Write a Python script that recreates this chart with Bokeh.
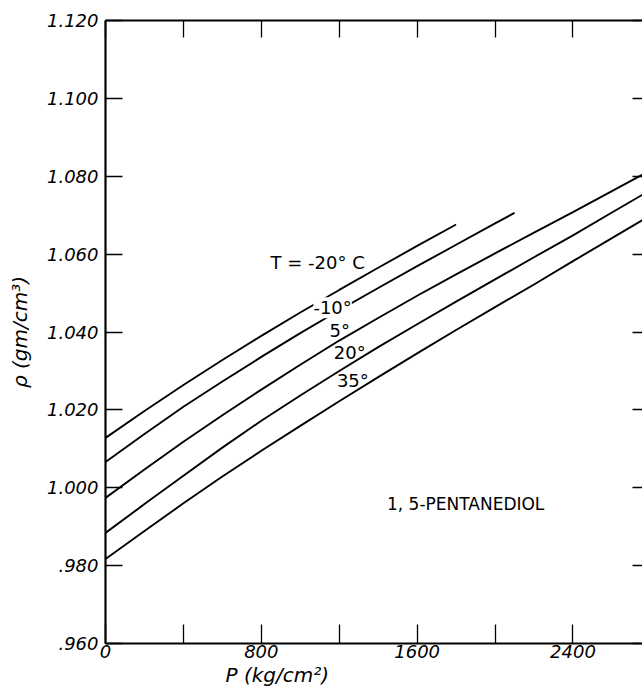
from bokeh.plotting import figure
from bokeh.models import LinearAxis, FixedTicker, Range1d, Label, Title
from bokeh.embed import file_html
from bokeh.resources import INLINE

# ---- data ----
P_m20 = [0, 200, 400, 600, 800, 1000, 1200, 1400, 1600, 1800]
rho_m20 = [1.0128, 1.0197, 1.0264, 1.0328, 1.0390, 1.0450, 1.0508, 1.0565, 1.0621, 1.0676]

P_m10 = [0, 200, 400, 600, 800, 1000, 1200, 1400, 1600, 1800, 2000, 2100]
rho_m10 = [1.0066, 1.0138, 1.0208, 1.0273, 1.0336, 1.0397, 1.0456, 1.0513, 1.0569, 1.0624,
           1.0679, 1.0706]

P_full = [0, 200, 400, 600, 800, 1000, 1200, 1400, 1600, 1800, 2000, 2200, 2400, 2600, 2800]
rho_5 = [0.9974, 1.0047, 1.0118, 1.0186, 1.0252, 1.0316, 1.0378, 1.0436, 1.0493, 1.0548,
         1.0602, 1.0655, 1.0708, 1.0762, 1.0816]
rho_20 = [0.9884, 0.9958, 1.0031, 1.0103, 1.0172, 1.0237, 1.0300, 1.0361, 1.0420, 1.0478,
          1.0535, 1.0592, 1.0648, 1.0707, 1.0765]
rho_35 = [0.9817, 0.9889, 0.9960, 1.0029, 1.0095, 1.0159, 1.0222, 1.0284, 1.0345, 1.0405,
          1.0464, 1.0522, 1.0582, 1.0641, 1.0700]

x_label_ticks = [0, 800, 1600, 2400]
x_minor_ticks = [400, 1200, 2000, 2800]
x_all_ticks = [0, 400, 800, 1200, 1600, 2000, 2400, 2800]
x_tick_labels = ["0", "800", "1600", "2400"]
y_ticks = [0.96, 0.98, 1.00, 1.02, 1.04, 1.06, 1.08, 1.10, 1.12]
y_tick_labels = [".960", ".980", "1.000", "1.020", "1.040", "1.060", "1.080", "1.100", "1.120"]

FONT = "DejaVu Sans"

p = figure(width=642, height=689, output_backend="svg", toolbar_location=None,
           x_range=Range1d(0, 2757), y_range=Range1d(0.96, 1.12),
           min_border_left=105, min_border_top=20, min_border_bottom=46,
           min_border_right=0)
p.outline_line_color = None
p.xgrid.visible = False
p.ygrid.visible = False
p.background_fill_color = "white"
p.border_fill_color = "white"


def style_axis(ax, major, minor, tick_in, show_line=True):
    ax.ticker = FixedTicker(ticks=major, minor_ticks=minor)
    ax.major_tick_in = tick_in
    ax.major_tick_out = 0
    ax.minor_tick_in = tick_in
    ax.minor_tick_out = 0
    ax.major_tick_line_color = "black"
    ax.minor_tick_line_color = "black"
    ax.major_tick_line_width = 1.3
    ax.minor_tick_line_width = 1.3
    ax.axis_line_color = "black" if show_line else None
    ax.axis_line_width = 2.2


# left axis
yl = p.yaxis[0]
style_axis(yl, y_ticks, [], 17)
yl.major_label_overrides = dict(zip(y_ticks, y_tick_labels))
yl.major_label_text_font = FONT
yl.major_label_text_font_style = "italic"
yl.major_label_text_font_size = "18px"
yl.major_label_text_color = "black"
yl.major_label_standoff = 7
yl.axis_label = "ρ (gm/cm³)"
yl.axis_label_text_font = FONT
yl.axis_label_text_font_style = "italic"
yl.axis_label_text_font_size = "20px"
yl.axis_label_text_color = "black"
yl.axis_label_standoff = 12

# bottom axis
xb = p.xaxis[0]
style_axis(xb, x_label_ticks, x_minor_ticks, 19)
xb.major_label_overrides = dict(zip(x_label_ticks, x_tick_labels))
xb.major_label_text_font = FONT
xb.major_label_text_font_style = "italic"
xb.major_label_text_font_size = "18px"
xb.major_label_text_color = "black"
xb.major_label_standoff = 1

# x-axis title, placed left of centre as in the reference
xt_title = Title(text="P (kg/cm²)", align="left", offset=120, standoff=0,
                 text_font=FONT, text_font_style="italic", text_font_size="20px",
                 text_color="black")
p.add_layout(xt_title, "below")

# top axis: ticks only
xt = LinearAxis()
style_axis(xt, [], x_all_ticks, 17)
xt.major_label_standoff = 0
p.add_layout(xt, "above")

# right axis: ticks only (its line lies off the page in the reference)
yr = LinearAxis()
style_axis(yr, [], y_ticks, 10, show_line=False)
yr.major_label_standoff = 0
p.add_layout(yr, "right")

lw = 1.9
p.line(P_m20, rho_m20, line_color="black", line_width=lw)
p.line(P_m10, rho_m10, line_color="black", line_width=lw)
p.line(P_full, rho_5, line_color="black", line_width=lw)
p.line(P_full, rho_20, line_color="black", line_width=lw)
p.line(P_full, rho_35, line_color="black", line_width=lw)


def lab(x, y, text, size="18px", style="normal", bg=None, align="center"):
    l = Label(x=x, y=y, text=text, text_font=FONT, text_font_size=size,
              text_font_style=style, text_color="black", text_align=align,
              text_baseline="middle")
    if bg:
        l.background_fill_color = bg
    p.add_layout(l)


lab(1089, 1.0578, "T = -20° C")
lab(1166, 1.0462, "-10°", bg="white")
lab(1203, 1.0403, "5°")
lab(1254, 1.0347, "20°")
lab(1270, 1.0275, "35°")
lab(1445, 0.9958, "1, 5-PENTANEDIOL", size="17px", align="left")

open("out.html", "w").write(file_html(p, INLINE))
